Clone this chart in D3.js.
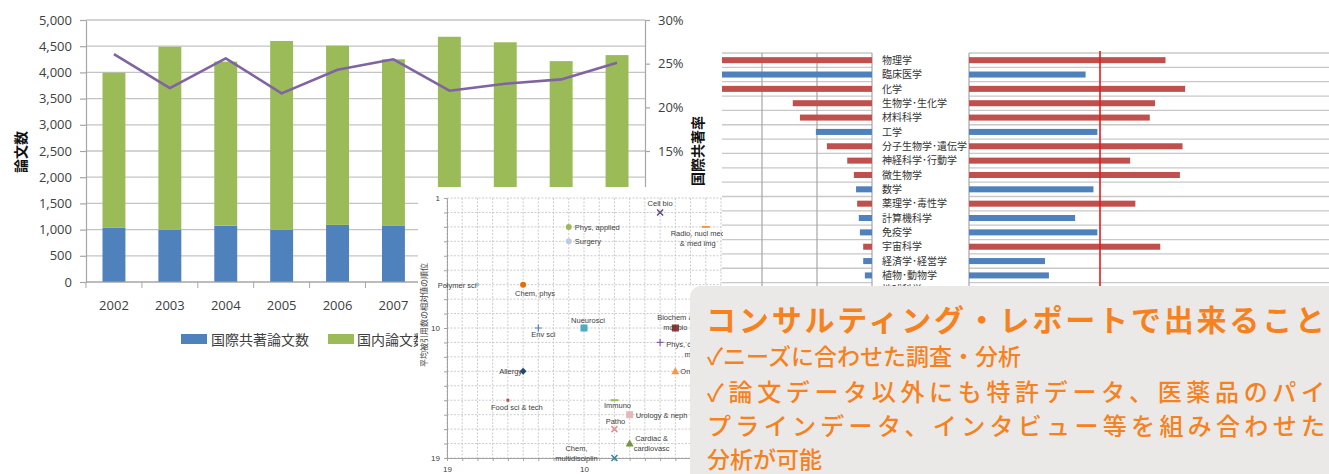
<!DOCTYPE html>
<html>
<head>
<meta charset="utf-8">
<style>
  body { margin: 0; background: #fff; }
  svg { display: block; }
  .num { font-family: "Open Sans", "Noto Sans", sans-serif; }
  .jp { font-family: "Noto Sans CJK JP", sans-serif; }
  .lab { font-family: "Liberation Sans", sans-serif; }
</style>
<script src="https://cdn.jsdelivr.net/npm/d3@7"></script>
</head>
<body>
<svg id="chart" width="1329" height="474"></svg>
<script>
// ---- combo chart: papers per year ----
let years = ["2002","2003","2004","2005","2006","2007","2008","2009","2010","2011"]
let intlPapers = [1040, 995, 1075, 995, 1090, 1070, 1025, 1040, 975, 1085]
let domesticPapers = [2955, 3495, 3130, 3605, 3420, 3180, 3655, 3535, 3240, 3245]
let intlRate = [26.1, 22.2, 25.6, 21.6, 24.3, 25.5, 21.9, 22.7, 23.2, 25.1]
let seriesNames = ["国際共著論文数", "国内論文数", "国際共著率"]

// ---- field table ----
let fields = ["物理学","臨床医学","化学","生物学･生化学","材料科学","工学","分子生物学･遺伝学","神経科学･行動学",
  "微生物学","数学","薬理学･毒性学","計算機科学","免疫学","宇宙科学","経済学･経営学","植物･動物学","地球科学"]
let fieldPapers = [3600, 3300, 3000, 1440, 1310, 1020, 820, 450, 330, 290, 270, 240, 220, 160, 160, 130, 90]
let fieldRelCite = [1.50, 0.89, 1.65, 1.42, 1.38, 0.98, 1.63, 1.23, 1.61, 0.95, 1.27, 0.81, 0.98, 1.46, 0.58, 0.61, 1.48]

// ---- scatter: rank of papers vs rank of relative citations ----
let pointNames = ["Cell bio","Phys, applied","Surgery","Radio, nucl med\n& med img","Polymer sci","Chem, phys","Env sci",
  "Nueurosci","Biochem &\nmol bio","Phys, condensed\nmatter","Allergy","Oncology","Food sci & tech","Immuno",
  "Urology & neph","Patho","Cardiac &\ncardiovasc","Chem,\nmultidisciplin"]
let rankX = [5, 11, 11, 2, 17, 14, 13, 10, 4, 5, 14, 4, 15, 8, 7, 8, 7, 8]
let rankY = [2, 3, 4, 3, 7, 7, 10, 10, 10, 11, 13, 13, 15, 15, 16, 17, 18, 19]
let scatterTicks = [19, 10, 1]

// marker look and label placement for each point (style only)
let markerStyle = [
  ["x","#604a7b"],["circle","#9bbb59"],["circle","#b9cde5"],["dash","#f79646"],["dot","#93cddd"],
  ["circle","#e46c0a"],["plus","#4f81bd"],["square","#4bacc6"],["square","#953735"],["plus","#8064a2"],
  ["diamond","#1f497d"],["triangle","#f79646"],["dot","#c0504d"],["dash","#9bbb59"],["square","#e6b9b8"],
  ["x","#d99694"],["triangle","#77933c"],["x","#31859c"]]
let labelPlace = [
  ["middle",0,-6],["start",6,3],["start",6,3],["middle",-8,9],["end",-1,3],["middle",12,11],["middle",5,9],
  ["middle",4,-5],["middle",0,-8],["middle",35,5],["end",-1,3],["start",5,3],["middle",9,10],["middle",3,8],
  ["start",6,3],["middle",1,-5],["middle",22,-3],["middle",-38,-7]]

let svg = d3.select("#chart")
let defs = svg.append("defs")
defs.append("clipPath").attr("id","clipCombo").append("rect").attr("x",0).attr("y",0).attr("width",712).attr("height",474)
defs.append("clipPath").attr("id","clipDiv").append("rect").attr("x",722).attr("y",0).attr("width",607).attr("height",474)
// scatter box, its lower right part sits under the callout
defs.append("clipPath").attr("id","clipSc").append("path").attr("d","M418,187H723V286H690V474H418Z")

// ================= combo chart =================
function drawCombo() {
  let g = svg.append("g").attr("clip-path","url(#clipCombo)")
  let x = d3.scaleBand().domain(years).range([86, 645]).paddingInner(0.59).paddingOuter(0.295)
  let y = d3.scaleLinear().domain([0, 5000]).range([282, 20])
  let yR = d3.scaleLinear().domain([0, 30]).range([282, 20])
  let leftTicks = d3.range(0, 5001, 500)

  g.selectAll(".grid").data(leftTicks).enter().append("line")
    .attr("x1", 86).attr("x2", 645).attr("y1", d => y(d)).attr("y2", d => y(d))
    .attr("stroke", "#c4c4c4").attr("stroke-width", 1.3)

  let stack = years.map((yr, i) => ({yr, a: intlPapers[i], b: domesticPapers[i]}))
  g.selectAll(".bi").data(stack).enter().append("rect")
    .attr("x", d => x(d.yr)).attr("width", x.bandwidth())
    .attr("y", d => y(d.a)).attr("height", d => y(0) - y(d.a)).attr("fill", "#4f81bd")
  g.selectAll(".bd").data(stack).enter().append("rect")
    .attr("x", d => x(d.yr)).attr("width", x.bandwidth())
    .attr("y", d => y(d.a + d.b)).attr("height", d => y(d.a) - y(d.a + d.b)).attr("fill", "#9bbb59")

  let line = d3.line().x((d, i) => x(years[i]) + x.bandwidth() / 2).y(d => yR(d))
  g.append("path").datum(intlRate).attr("d", line).attr("fill", "none")
    .attr("stroke", "#8064a2").attr("stroke-width", 2.6).attr("stroke-linejoin", "round")

  let ax = g.append("g").attr("class", "num").attr("transform", "translate(86,0)")
    .call(d3.axisLeft(y).tickValues(leftTicks).tickFormat(d3.format(",")).tickSize(6).tickSizeOuter(0).tickPadding(8))
  let axR = g.append("g").attr("class", "num").attr("transform", "translate(645,0)")
    .call(d3.axisRight(yR).tickValues(d3.range(0, 31, 5)).tickFormat(d => d + "%").tickSize(5).tickSizeOuter(0).tickPadding(8))
  let axB = g.append("g").attr("class", "num").attr("transform", "translate(0,282)")
    .call(d3.axisBottom(x).tickSize(0).tickPadding(19))
  axB.select(".domain").attr("d", "M86,0H645")
  g.selectAll(".xt").data(d3.range(years.length + 1)).enter().append("line")
    .attr("x1", i => 86 + i * x.step()).attr("x2", i => 86 + i * x.step())
    .attr("y1", 282).attr("y2", 288).attr("stroke", "#a6a6a6")
  ;[ax, axR, axB].forEach(a => {
    a.selectAll("path,line").attr("stroke", "#a6a6a6").attr("stroke-width", 1.2)
    a.selectAll("text").attr("fill", "#404040").attr("font-size", 13)
  })

  // axis titles, turned to read bottom to top
  g.append("text").attr("class","jp").attr("font-size",14).attr("font-weight",700).attr("fill","#111")
    .attr("text-anchor","middle").attr("transform","translate(26,152) rotate(-90)").text("論文数")
  g.append("text").attr("class","jp").attr("font-size",14).attr("font-weight",700).attr("fill","#111")
    .attr("text-anchor","middle").attr("transform","translate(707,151) rotate(-90)").attr("dx", 0).attr("dy", 0)
    .attr("x", 0).attr("y", -4).text("国際共著率")

  // legend
  let lg = g.append("g").attr("class","jp").attr("font-size",14).attr("fill","#404040")
  lg.append("rect").attr("x",181).attr("y",334).attr("width",26).attr("height",10).attr("fill","#4f81bd")
  lg.append("text").attr("x",211).attr("y",345).text(seriesNames[0])
  lg.append("rect").attr("x",328).attr("y",334).attr("width",26).attr("height",10).attr("fill","#9bbb59")
  lg.append("text").attr("x",357).attr("y",345).text(seriesNames[1])
  lg.append("line").attr("x1",445).attr("x2",471).attr("y1",339).attr("y2",339).attr("stroke","#8064a2").attr("stroke-width",2.6)
  lg.append("text").attr("x",475).attr("y",345).text(seriesNames[2])
}

// ================= field bars =================
function drawFields() {
  let g = svg.append("g").attr("clip-path","url(#clipDiv)")
  let row = d3.scaleBand().domain(fields).range([53, 53 + 17 * 14.35]).paddingInner(0.58).paddingOuter(0.29)
  let xl = d3.scaleLinear().domain([0, 1000]).range([872, 817])
  let xr = d3.scaleLinear().domain([0, 1]).range([969, 1100])
  let seps = d3.range(fields.length + 1).map(i => 53 + i * row.step())

  g.selectAll(".sl").data(seps).enter().append("line")
    .attr("x1", 700).attr("x2", 872).attr("y1", d => d).attr("y2", d => d).attr("stroke","#c8c8c8").attr("stroke-width",1.3)
  g.selectAll(".sr").data(seps).enter().append("line")
    .attr("x1", 969).attr("x2", 1329).attr("y1", d => d).attr("y2", d => d).attr("stroke","#c8c8c8").attr("stroke-width",1.3)
  g.selectAll(".vl").data([0, 1000, 2000, 3000]).enter().append("line")
    .attr("x1", d => xl(d)).attr("x2", d => xl(d)).attr("y1", 53).attr("y2", 474).attr("stroke","#a6a6a6").attr("stroke-width",1.2)
  g.append("line").attr("x1", xr(0)).attr("x2", xr(0)).attr("y1", 53).attr("y2", 474).attr("stroke","#a6a6a6").attr("stroke-width",1.2)

  let colorOf = i => fieldRelCite[i] >= 1 ? "#c0504d" : "#4f81bd"
  g.selectAll(".bl").data(fields).enter().append("rect")
    .attr("x", (d, i) => xl(fieldPapers[i])).attr("width", (d, i) => xl(0) - xl(fieldPapers[i]))
    .attr("y", d => row(d)).attr("height", row.bandwidth()).attr("fill", (d, i) => colorOf(i))
  g.selectAll(".br").data(fields).enter().append("rect")
    .attr("x", xr(0)).attr("width", (d, i) => xr(fieldRelCite[i]) - xr(0))
    .attr("y", d => row(d)).attr("height", row.bandwidth()).attr("fill", (d, i) => colorOf(i))

  g.append("line").attr("x1", xr(1)).attr("x2", xr(1)).attr("y1", 51).attr("y2", 474).attr("stroke","#e31c1c").attr("stroke-width",1.6)

  g.selectAll(".fl").data(fields).enter().append("text").attr("class","jp")
    .attr("x", 882).attr("y", d => row(d) + row.bandwidth() / 2 + 3.7)
    .attr("font-size", 10).attr("fill", "#333").text(d => d)
}

// ================= scatter =================
function marker(g, type, color, cx, cy) {
  if (type === "circle") g.append("circle").attr("cx",cx).attr("cy",cy).attr("r",3).attr("fill",color)
  else if (type === "square") g.append("rect").attr("x",cx-3.5).attr("y",cy-3.5).attr("width",7).attr("height",7).attr("fill",color)
  else if (type === "dot") g.append("rect").attr("x",cx-1.5).attr("y",cy-1.5).attr("width",3).attr("height",3).attr("fill",color)
  else if (type === "dash") g.append("rect").attr("x",cx-4).attr("y",cy-1).attr("width",8).attr("height",2).attr("fill",color)
  else if (type === "triangle") g.append("path").attr("d",`M${cx},${cy-4}L${cx+4},${cy+3}L${cx-4},${cy+3}Z`).attr("fill",color)
  else if (type === "diamond") g.append("path").attr("d",`M${cx},${cy-3.5}L${cx+3.5},${cy}L${cx},${cy+3.5}L${cx-3.5},${cy}Z`).attr("fill",color)
  else if (type === "plus") g.append("path").attr("d",`M${cx-3.5},${cy}H${cx+3.5}M${cx},${cy-3.5}V${cy+3.5}`).attr("stroke",color).attr("stroke-width",1.2)
  else if (type === "x") g.append("path").attr("d",`M${cx-3},${cy-3}L${cx+3},${cy+3}M${cx-3},${cy+3}L${cx+3},${cy-3}`).attr("stroke",color).attr("stroke-width",1.5)
}

function drawScatter() {
  let g = svg.append("g").attr("clip-path","url(#clipSc)")
  g.append("rect").attr("x", 418).attr("y", 187).attr("width", 302).attr("height", 287).attr("fill", "#fff")
  let sx = d3.scaleLinear().domain([19, 1]).range([447, 721])
  let sy = d3.scaleLinear().domain([1, 19]).range([198, 458])
  let units = d3.range(1, 20)

  g.selectAll(".gx").data(units).enter().append("line")
    .attr("x1", d => sx(d)).attr("x2", d => sx(d)).attr("y1", 198).attr("y2", 458)
    .attr("stroke", "#c6c6c6").attr("stroke-width", 0.9).attr("stroke-dasharray", "2,1.5")
  g.selectAll(".gy").data(units).enter().append("line")
    .attr("x1", 447).attr("x2", 721).attr("y1", d => sy(d)).attr("y2", d => sy(d))
    .attr("stroke", "#c6c6c6").attr("stroke-width", 0.9).attr("stroke-dasharray", "2,1.5")

  let ay = g.append("g").attr("class","lab").attr("transform","translate(447,0)")
    .call(d3.axisLeft(sy).tickValues(units).tickFormat(d => scatterTicks.includes(d) ? d : "").tickSize(3).tickSizeOuter(0).tickPadding(4))
  let ax = g.append("g").attr("class","lab").attr("transform","translate(0,458)")
    .call(d3.axisBottom(sx).tickValues(units).tickFormat(d => scatterTicks.includes(d) && d !== 1 ? d : "").tickSize(3).tickSizeOuter(0).tickPadding(5))
  ;[ay, ax].forEach(a => {
    a.selectAll("path,line").attr("stroke", "#9a9a9a").attr("stroke-width", 0.9)
    a.selectAll("text").attr("fill", "#404040").attr("font-size", 8)
  })

  g.append("text").attr("class","jp").attr("font-size", 8).attr("fill","#404040")
    .attr("transform","translate(427,315) rotate(-90)").attr("text-anchor","middle")
    .text("平均被引用数の相対値の順位")

  pointNames.forEach((name, i) => {
    let cx = sx(rankX[i]), cy = sy(rankY[i])
    marker(g, markerStyle[i][0], markerStyle[i][1], cx, cy)
    let [anchor, dx, dy] = labelPlace[i]
    let t = g.append("text").attr("class","lab").attr("font-size", 7.5).attr("fill", "#404040").attr("text-anchor", anchor)
    name.split("\n").forEach((ln, k) => t.append("tspan").attr("x", cx + dx).attr("y", cy + dy + k * 10).text(ln))
  })
}

// ================= callout =================
function drawCallout() {
  let g = svg.append("g")
  g.append("rect").attr("x", 690).attr("y", 286).attr("width", 700).attr("height", 260).attr("rx", 11).attr("fill", "#ebe9e7")
  let txt = g.append("g").attr("class","jp").attr("fill","#f5821f")
  txt.append("text").attr("x",706).attr("y",331).attr("font-size",30).attr("font-weight",700)
    .attr("textLength",619).attr("lengthAdjust","spacing").text("コンサルティング・レポートで出来ること")
  txt.append("text").attr("x",707).attr("y",365).attr("font-size",23).attr("font-weight",500)
    .text("✓ニーズに合わせた調査・分析")
  txt.append("text").attr("x",707).attr("y",401).attr("font-size",24).attr("font-weight",500)
    .attr("textLength",618).attr("lengthAdjust","spacing").text("✓論文データ以外にも特許データ、医薬品のパイ")
  txt.append("text").attr("x",707).attr("y",435).attr("font-size",24).attr("font-weight",500)
    .attr("textLength",618).attr("lengthAdjust","spacing").text("プラインデータ、インタビュー等を組み合わせた")
  txt.append("text").attr("x",707).attr("y",468).attr("font-size",23).attr("font-weight",500)
    .text("分析が可能")
}

drawCombo()
drawFields()
drawScatter()
drawCallout()
</script>
</body>
</html>
